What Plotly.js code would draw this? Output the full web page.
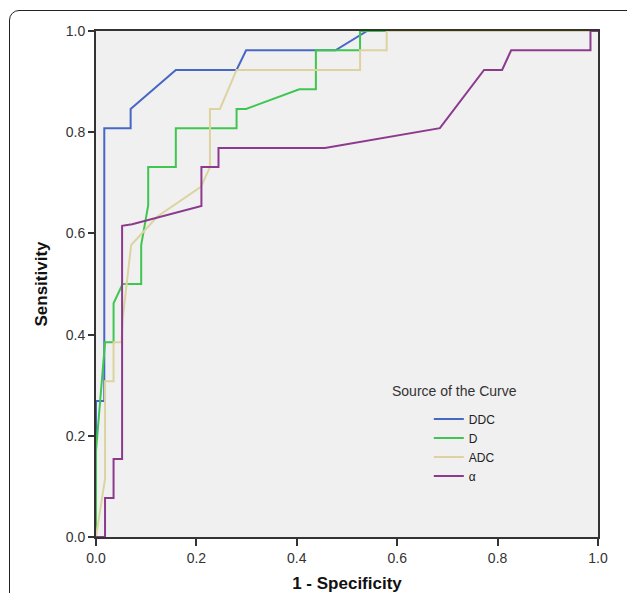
<!DOCTYPE html>
<html>
<head>
<meta charset="utf-8">
<script src="https://cdn.plot.ly/plotly-3.0.1.min.js"></script>
<style>
  html, body { margin: 0; padding: 0; background: #fff; }
  #wrap { position: relative; width: 627px; height: 593px; overflow: hidden; }
  #chart { width: 627px; height: 593px; }
  #frame { position: absolute; left: 9px; top: 10px; width: 640px; height: 620px;
           border: 1.5px solid #222; border-radius: 10px; pointer-events: none; box-sizing: border-box; }
</style>
</head>
<body>
<div id="wrap">
  <div id="chart"></div>
  <div id="frame"></div>
</div>
<script>
// Series names
const seriesNames = ["DDC", "D", "ADC", "α"];

// DDC curve (1 - specificity, sensitivity)
const ddcX = [0, 0, 0.0165, 0.0165, 0.069, 0.069, 0.159, 0.280, 0.299, 0.477, 0.540, 1];
const ddcY = [0, 0.269, 0.269, 0.808, 0.808, 0.846, 0.923, 0.923, 0.962, 0.962, 1, 1];

// D curve
const dX = [0, 0, 0.018, 0.035, 0.035, 0.053, 0.090, 0.090, 0.104, 0.104, 0.159, 0.159, 0.280, 0.280, 0.299, 0.405, 0.438, 0.438, 0.526, 0.526, 1];
const dY = [0, 0.170, 0.385, 0.385, 0.462, 0.500, 0.500, 0.577, 0.656, 0.731, 0.731, 0.808, 0.808, 0.846, 0.846, 0.885, 0.885, 0.962, 0.962, 1, 1];

// ADC curve
const adcX = [0, 0.018, 0.018, 0.035, 0.035, 0.051, 0.053, 0.070, 0.123, 0.209, 0.227, 0.227, 0.247, 0.280, 0.526, 0.526, 0.579, 0.579, 1];
const adcY = [0, 0.115, 0.308, 0.308, 0.385, 0.385, 0.430, 0.577, 0.634, 0.692, 0.731, 0.846, 0.846, 0.923, 0.923, 0.962, 0.962, 1, 1];

// alpha curve
const alphaX = [0, 0.018, 0.018, 0.035, 0.035, 0.052, 0.052, 0.072, 0.210, 0.210, 0.244, 0.244, 0.456, 0.685, 0.773, 0.809, 0.827, 0.985, 0.985, 1];
const alphaY = [0, 0, 0.077, 0.077, 0.154, 0.154, 0.615, 0.618, 0.654, 0.731, 0.731, 0.769, 0.769, 0.808, 0.923, 0.923, 0.962, 0.962, 1, 1];

const tickVals = [0, 0.2, 0.4, 0.6, 0.8, 1.0];
const tickText = ["0.0", "0.2", "0.4", "0.6", "0.8", "1.0"];

const colors = ["#4767C4", "#3EC650", "#DDD3A0", "#8C3A8E"];
const xs = [ddcX, dX, adcX, alphaX];
const ys = [ddcY, dY, adcY, alphaY];

const traces = seriesNames.map((n, i) => ({
  x: xs[i], y: ys[i], name: n, type: "scatter", mode: "lines",
  line: { color: colors[i], width: 2 }, hoverinfo: "skip"
}));

const axisCommon = {
  range: [0, 1], tickvals: tickVals, ticktext: tickText,
  showgrid: false, zeroline: false, showline: true, mirror: true,
  linecolor: "#333", linewidth: 2, ticks: "outside", tickwidth: 2, tickcolor: "#333",
  tickfont: { family: "Liberation Sans, Arial, sans-serif", size: 14, color: "#333" },
  fixedrange: true
};

const layout = {
  width: 627, height: 593,
  margin: { l: 96, r: 29, t: 31, b: 56 },
  paper_bgcolor: "#ffffff", plot_bgcolor: "#F0F0F0",
  showlegend: true,
  legend: {
    x: 0.663, y: 0.262, xanchor: "left", yanchor: "top",
    bgcolor: "rgba(0,0,0,0)", borderwidth: 0,
    font: { family: "Liberation Sans, Arial, sans-serif", size: 12, color: "#222" },
    tracegroupgap: 0, itemwidth: 30
  },
  xaxis: Object.assign({}, axisCommon, {
    ticklen: 7,
    title: { text: "1 - Specificity", standoff: 21,
             font: { family: "Liberation Sans, Arial, sans-serif", size: 17, color: "#111", weight: "bold" } }
  }),
  yaxis: Object.assign({}, axisCommon, {
    ticklen: 6,
    title: { text: "Sensitivity", standoff: 14,
             font: { family: "Liberation Sans, Arial, sans-serif", size: 17, color: "#111", weight: "bold" } }
  }),
  annotations: [{
    text: "Source of the Curve", xref: "paper", yref: "paper",
    x: (390 - 96) / 502, y: (537 - 391) / 506, xanchor: "left", yanchor: "middle",
    showarrow: false,
    font: { family: "Liberation Sans, Arial, sans-serif", size: 14, color: "#333" }
  }]
};

Plotly.newPlot("chart", traces, layout, { displayModeBar: false, staticPlot: true });
</script>
</body>
</html>
